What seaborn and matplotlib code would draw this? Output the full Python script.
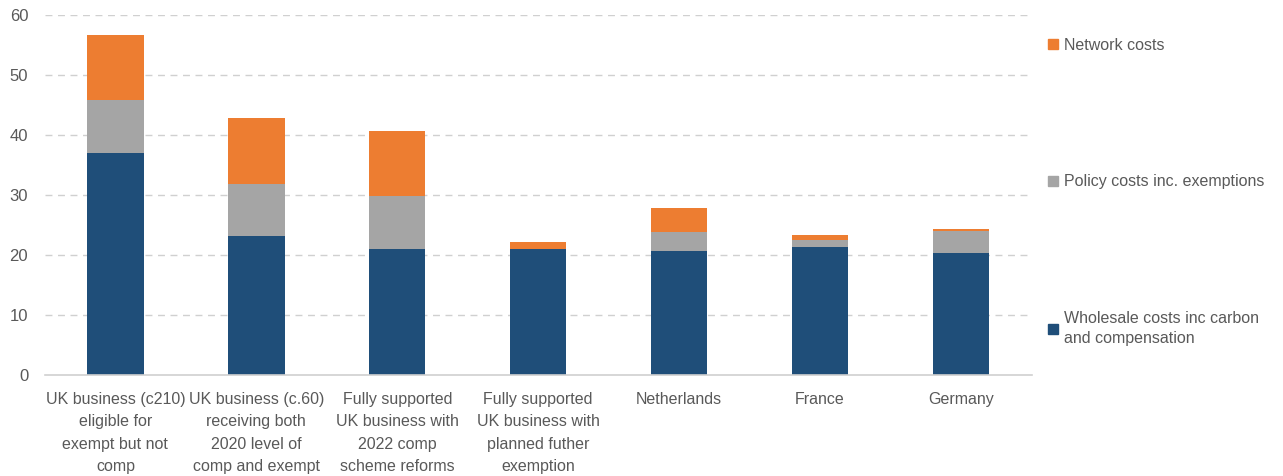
import pandas as pd
import matplotlib.pyplot as plt
import seaborn as sns
from matplotlib.patches import Patch

# values
categories = [
    "UK business (c210)\neligible for\nexempt but not\ncomp",
    "UK business (c.60)\nreceiving both\n2020 level of\ncomp and exempt",
    "Fully supported\nUK business with\n2022 comp\nscheme reforms",
    "Fully supported\nUK business with\nplanned futher\nexemption",
    "Netherlands",
    "France",
    "Germany",
]
wholesale = [37.1, 23.2, 21.0, 21.0, 20.7, 21.4, 20.4]
policy = [8.8, 8.7, 8.9, 0.0, 3.1, 1.2, 3.6]
network = [10.8, 10.9, 10.8, 1.2, 4.1, 0.7, 0.3]

blue = "#1F4E79"
grey = "#A5A5A5"
orange = "#ED7D31"
text_col = "#595959"

df = pd.DataFrame({"category": categories, "wholesale": wholesale,
                   "policy": policy, "network": network})
df["lower2"] = df["wholesale"] + df["policy"]
df["total"] = df["lower2"] + df["network"]

sns.set_style("white")
plt.rcParams["font.family"] = ["Liberation Sans", "DejaVu Sans"]

fig = plt.figure(figsize=(12.83, 4.76), dpi=100)
ax = fig.add_axes([0.035, 0.212, 0.769, 0.756])

# stacked bars: draw cumulative totals, largest first
for col, c in [("total", orange), ("lower2", grey), ("wholesale", blue)]:
    sns.barplot(data=df, x="category", y=col, color=c, width=0.4,
                saturation=1, ax=ax, order=categories, linewidth=0)

ax.set_ylim(0, 60)
ax.set_xlim(-0.5, 6.5)
ax.set_yticks(range(0, 61, 10))
ax.set_xlabel("")
ax.set_ylabel("")
for y in range(10, 61, 10):
    ax.axhline(y, color="#D0D0D0", linestyle=(0, (5, 4)), linewidth=1, zorder=0)
ax.set_axisbelow(True)

for s in ["top", "right", "left"]:
    ax.spines[s].set_visible(False)
ax.spines["bottom"].set_color("#D0D0D0")
ax.spines["bottom"].set_linewidth(1.2)
ax.tick_params(axis="both", length=0, colors=text_col, labelsize=11.5)
ax.tick_params(axis="y", labelsize=12)
ax.tick_params(axis="x", pad=12)
ax.tick_params(axis="y", pad=12)
for t in ax.get_xticklabels():
    t.set_linespacing(1.62)

# legend entries spread down the right side
entries = [(orange, "Network costs", 0.905),
           (grey, "Policy costs inc. exemptions", 0.618),
           (blue, "Wholesale costs inc carbon\nand compensation", 0.31)]
for col, lab, yy in entries:
    leg = fig.legend(handles=[Patch(color=col, label=lab)], loc="center left",
                     bbox_to_anchor=(0.806, yy), frameon=False, fontsize=11.5,
                     labelcolor=text_col, handlelength=0.6, handleheight=0.6,
                     handletextpad=0.4)
    for t in leg.get_texts():
        t.set_linespacing(1.4)

fig.savefig("out.png", dpi=100)
